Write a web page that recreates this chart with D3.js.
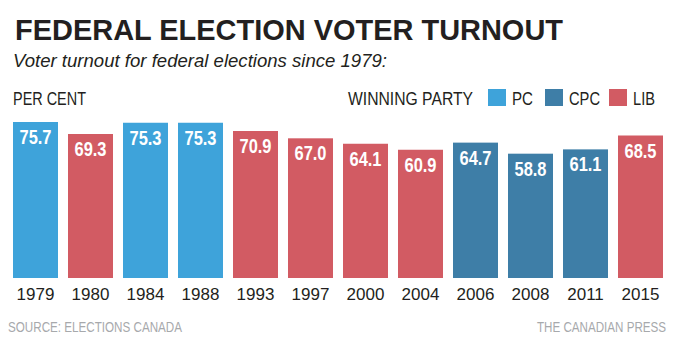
<!DOCTYPE html>
<html>
<head>
<meta charset="utf-8">
<script src="https://cdn.jsdelivr.net/npm/d3@7/dist/d3.min.js"></script>
<style>
  html, body { margin: 0; padding: 0; background: #fff; }
  svg { display: block; }
</style>
</head>
<body>
<svg id="chart" width="699" height="347"></svg>
<script>
// Federal election years, turnout (per cent) and the party that won
const years = ["1979", "1980", "1984", "1988", "1993", "1997", "2000", "2004", "2006", "2008", "2011", "2015"];
const turnout = [75.7, 69.3, 75.3, 75.3, 70.9, 67.0, 64.1, 60.9, 64.7, 58.8, 61.1, 68.5];
const winner = ["PC", "LIB", "PC", "PC", "LIB", "LIB", "LIB", "LIB", "CPC", "CPC", "CPC", "LIB"];
const parties = ["PC", "CPC", "LIB"];
const partyColors = ["#3ea3da", "#3e7ea7", "#d25b63"];

const svg = d3.select("#chart");
const sans = "'Liberation Sans', Arial, sans-serif";

// condensed text: squeeze regular glyphs to the width the layout allows
function squeeze(sel, len) {
  sel.attr("textLength", len).attr("lengthAdjust", "spacingAndGlyphs");
  return sel;
}

const color = d3.scaleOrdinal().domain(parties).range(partyColors);

const x = d3.scaleBand().domain(years).range([13, 663]).paddingInner(0.182).paddingOuter(0);
// bars rise from a baseline below zero so short bars still hold their labels
const y = d3.scaleLinear().domain([-7.5, 80]).range([278, 278 - 87.5 * 1.875]);

const rows = years.map((yr, i) => ({ year: yr, value: turnout[i], party: winner[i] }));

// Title and subtitle
svg.append("text")
  .attr("x", 15).attr("y", 40)
  .attr("font-family", sans).attr("font-weight", "bold").attr("font-size", 30)
  .attr("fill", "#231f20")
  .call(squeeze, 548)
  .text("FEDERAL ELECTION VOTER TURNOUT");

svg.append("text")
  .attr("x", 13).attr("y", 67)
  .attr("font-family", sans).attr("font-style", "italic").attr("font-size", 19)
  .attr("fill", "#231f20")
  .call(squeeze, 374)
  .text("Voter turnout for federal elections since 1979:");

// Unit label
svg.append("text")
  .attr("x", 13).attr("y", 105)
  .attr("font-family", sans).attr("font-size", 18)
  .attr("fill", "#231f20")
  .call(squeeze, 73)
  .text("PER CENT");

// Legend
svg.append("text")
  .attr("x", 348).attr("y", 105)
  .attr("font-family", sans).attr("font-size", 18)
  .attr("fill", "#231f20")
  .call(squeeze, 125)
  .text("WINNING PARTY");

const legendX = [488, 545, 609];
const legendLen = [21, 31, 22];
const legend = svg.append("g").selectAll("g")
  .data(parties)
  .join("g")
  .attr("transform", (d, i) => `translate(${legendX[i]},89)`);
legend.append("rect")
  .attr("width", 18).attr("height", 17)
  .attr("fill", d => color(d));
legend.append("text")
  .attr("x", 24).attr("y", 16)
  .attr("font-family", sans).attr("font-size", 18)
  .attr("fill", "#231f20")
  .attr("textLength", (d, i) => legendLen[i]).attr("lengthAdjust", "spacingAndGlyphs")
  .text(d => d);

// Bars
svg.append("g").selectAll("rect")
  .data(rows)
  .join("rect")
  .attr("x", d => x(d.year))
  .attr("y", d => y(d.value))
  .attr("width", x.bandwidth())
  .attr("height", d => y(-7.5) - y(d.value))
  .attr("fill", d => color(d.party));

// Value labels inside the top of each bar
svg.append("g").selectAll("text")
  .data(rows)
  .join("text")
  .attr("x", d => x(d.year) + x.bandwidth() / 2)
  .attr("y", d => y(d.value) + 22)
  .attr("text-anchor", "middle")
  .attr("font-family", sans).attr("font-weight", "bold").attr("font-size", 20)
  .attr("fill", "#fff")
  .call(squeeze, 32)
  .text(d => d.value.toFixed(1));

// Year axis
const xAxis = svg.append("g")
  .attr("transform", "translate(0,278)")
  .call(d3.axisBottom(x).tickSize(0).tickPadding(0));
xAxis.select(".domain").remove();
xAxis.selectAll("text")
  .attr("y", 22).attr("dy", 0)
  .attr("font-family", sans).attr("font-size", 17)
  .attr("fill", "#231f20");

// Footer
svg.append("text")
  .attr("x", 8).attr("y", 332)
  .attr("font-family", sans).attr("font-size", 14)
  .attr("fill", "#a7a9ac")
  .call(squeeze, 174)
  .text("SOURCE: ELECTIONS CANADA");

svg.append("text")
  .attr("x", 666).attr("y", 332)
  .attr("text-anchor", "end")
  .attr("font-family", sans).attr("font-size", 14)
  .attr("fill", "#a7a9ac")
  .call(squeeze, 129)
  .text("THE CANADIAN PRESS");
</script>
</body>
</html>
